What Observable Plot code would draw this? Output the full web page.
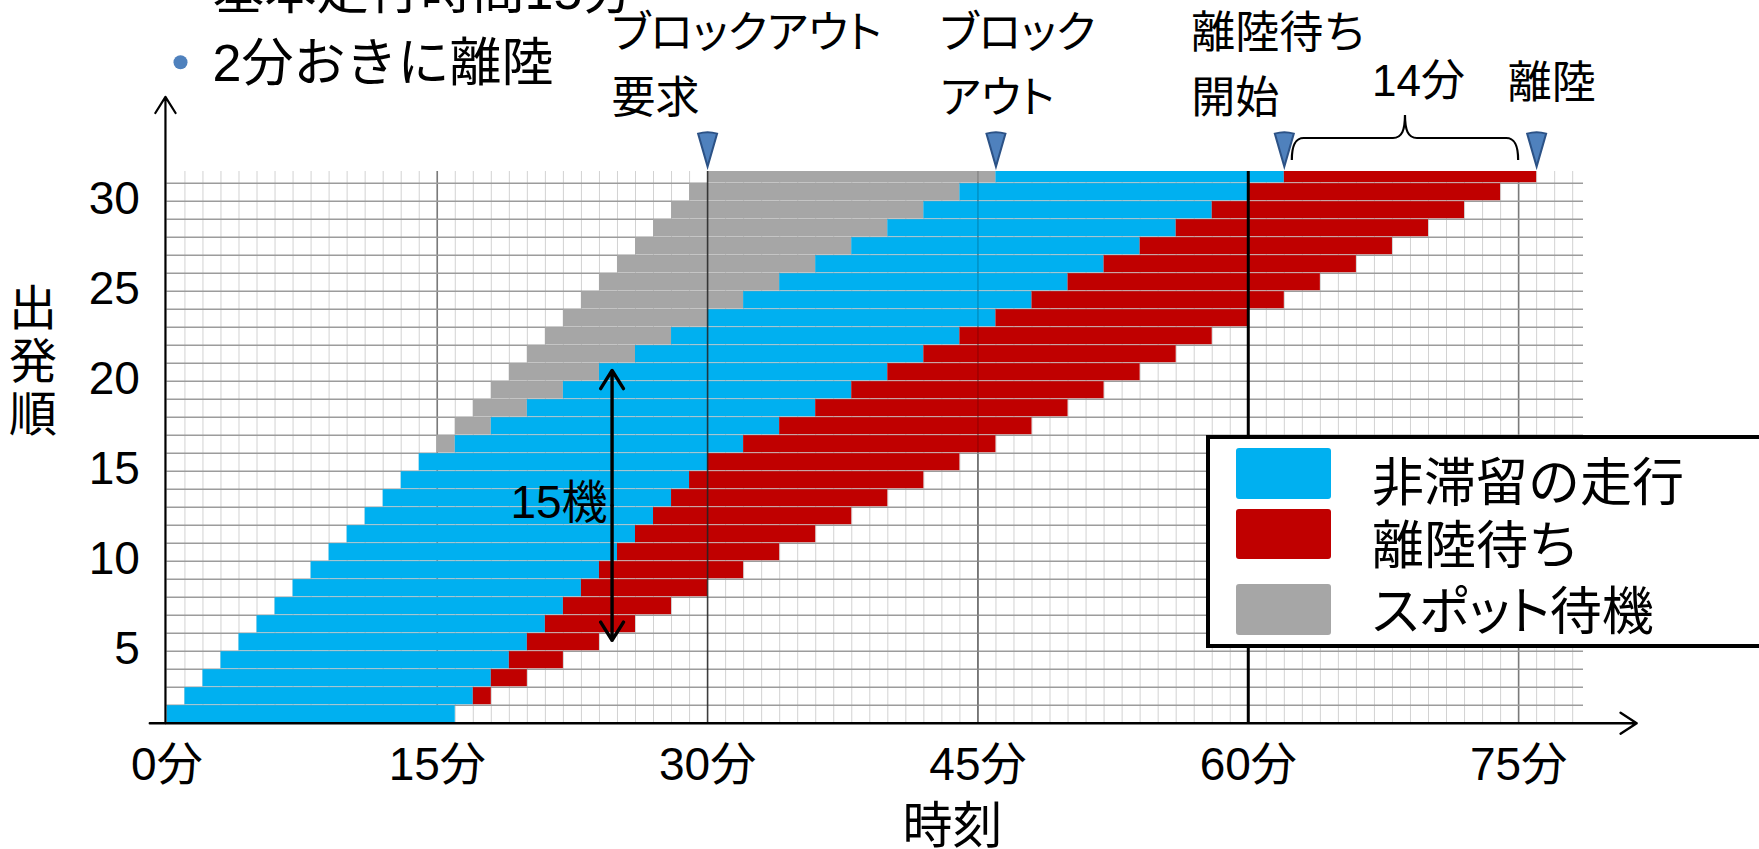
<!DOCTYPE html>
<html>
<head>
<meta charset="utf-8">
<script src="https://cdn.jsdelivr.net/npm/d3@7"></script>
<script src="https://cdn.jsdelivr.net/npm/@observablehq/plot@0.6"></script>
<style>
  html, body { margin: 0; padding: 0; background: #fff; }
  #stage { position: relative; width: 1759px; height: 849px; overflow: hidden; background: #fff; }
  #stage > svg { position: absolute; left: 0; top: 0; }
  #legend { position: absolute; left: 1206px; top: 435px; width: 700px; height: 213px;
            box-sizing: border-box; border: 4px solid #000; background: #fff; }
  .swatch { position: absolute; left: 1236px; width: 95px; border-radius: 3px; }
  .entry { position: absolute; left: 1372px; height: 52px; line-height: 52px; font-size: 52px;
           font-family: "Noto Sans CJK JP", sans-serif; white-space: nowrap; color: #000; }
  .palt { font-feature-settings: "palt" 1; }
</style>
</head>
<body>
<div id="stage"></div>
<script>
// Departure order of each aircraft
const aircraft = [1,2,3,4,5,6,7,8,9,10,11,12,13,14,15,16,17,18,19,20,21,22,23,24,25,26,27,28,29,30,31];
// Block-out request (start of spot wait), minutes
const requestTime = [0,1,2,3,4,5,6,7,8,9,10,11,12,13,14,15,16,17,18,19,20,21,22,23,24,25,26,27,28,29,30];
// Block-out (start of unimpeded taxi), minutes
const blockOutTime = [0,1,2,3,4,5,6,7,8,9,10,11,12,13,14,16,18,20,22,24,26,28,30,32,34,36,38,40,42,44,46];
// Arrival at the runway queue (start of takeoff wait), minutes
const queueStartTime = [16,17,18,19,20,21,22,23,24,25,26,27,28,29,30,32,34,36,38,40,42,44,46,48,50,52,54,56,58,60,62];
// Takeoff, minutes
const takeoffTime = [16,18,20,22,24,26,28,30,32,34,36,38,40,42,44,46,48,50,52,54,56,58,60,62,64,66,68,70,72,74,76];

const phaseNames = ["非滞留の走行", "離陸待ち", "スポット待機"];
const phaseColors = ["#00b0f0", "#c00000", "#a6a6a6"];
const xTicks = [0, 15, 30, 45, 60, 75];
const yTicks = [5, 10, 15, 20, 25, 30];
const headerLines = ["基本走行時間15分", "2分おきに離陸"];
const queuedCount = 15;          // aircraft bracketed by the vertical arrow
const queuedFrom = 5.1;          // lower end of that arrow, in departure order
const queuedAt = 24.7;           // time at which the arrow is drawn

const font = "'Liberation Sans', 'Noto Sans CJK JP', sans-serif";
const jpFont = "'Noto Sans CJK JP', 'Liberation Sans', sans-serif";

// One bar segment per aircraft and phase
const segments = aircraft.flatMap((n, i) => [
  {n, phase: phaseNames[2], start: requestTime[i], end: blockOutTime[i]},
  {n, phase: phaseNames[0], start: blockOutTime[i], end: queueStartTime[i]},
  {n, phase: phaseNames[1], start: queueStartTime[i], end: takeoffTime[i]}
]).filter(d => d.end > d.start);

// Milestones of the last aircraft, marked above the chart
const last = aircraft.length - 1;
const milestones = [
  {t: requestTime[last], text: "ブロックアウト\n要求", dx: -96},
  {t: blockOutTime[last], text: "ブロック\nアウト", dx: -56},
  {t: queueStartTime[last], text: "離陸待ち\n開始", dx: -93}
];
const takeoffMark = {t: takeoffTime[last], text: "離陸", dx: -29};
const waitMinutes = takeoffTime[last] - queueStartTime[last];

const xMax = 78.6, yMin = 0.5, yMax = 31.15;
const rowEdges = d3.range(1.5, aircraft.length, 1);
const minuteLines = d3.range(1, Math.floor(xMax) + 1);

// Narrow downward-pointing marker, tip at the anchor point
const pin = {
  draw(ctx) {
    ctx.moveTo(-9.5, -33);
    ctx.quadraticCurveTo(0, -36, 9.5, -33);
    ctx.lineTo(0, 0);
    ctx.closePath();
  }
};

// Curly brace spanning the takeoff wait of the last aircraft
function brace(index, scales, values, dims) {
  const x0 = scales.x(queueStartTime[last]) + 8;
  const x1 = scales.x(takeoffTime[last]) - 18;
  const xm = (x0 + x1) / 2;
  const top = dims.marginTop;
  const yEnd = top - 11, yLine = top - 33, yPeak = top - 56;
  const d = `M${x0},${yEnd} C${x0},${yLine + 10} ${x0 + 2},${yLine} ${x0 + 12},${yLine}` +
            ` L${xm - 12},${yLine} C${xm - 3},${yLine} ${xm},${yLine - 8} ${xm},${yPeak}` +
            ` C${xm},${yLine - 8} ${xm + 3},${yLine} ${xm + 12},${yLine}` +
            ` L${x1 - 12},${yLine} C${x1 - 2},${yLine} ${x1},${yLine + 10} ${x1},${yEnd}`;
  return d3.create("svg:path")
    .attr("d", d).attr("fill", "none").attr("stroke", "#000").attr("stroke-width", 2.2)
    .node();
}

const chart = Plot.plot({
  width: 1759,
  height: 849,
  marginLeft: 166.4,
  marginRight: 176,
  marginTop: 171,
  marginBottom: 126.3,
  style: {fontFamily: font, background: "#fff", color: "#000", overflow: "visible"},
  x: {domain: [0, xMax], label: null},
  y: {domain: [yMin, yMax], label: null},
  color: {domain: phaseNames, range: phaseColors},
  marks: [
    // background grid
    Plot.gridX(minuteLines, {stroke: "#d2d2d2", strokeOpacity: 1, strokeWidth: 1}),
    Plot.gridX([15, 45, 75], {stroke: "#7a7a7a", strokeOpacity: 1, strokeWidth: 1.6}),
    Plot.gridY(rowEdges, {stroke: "#9c9c9c", strokeOpacity: 1, strokeWidth: 1.6}),

    // phase bars, one row per aircraft
    Plot.rect(segments, {
      x1: "start", x2: "end",
      y1: d => d.n - 0.5, y2: d => d.n + 0.5,
      fill: "phase", insetTop: 0.5, insetBottom: 0.5, clip: true
    }),

    // reference times drawn over the bars
    Plot.ruleX([30], {stroke: "#222", strokeWidth: 1.6, strokeOpacity: 0.85}),
    Plot.ruleX([45], {stroke: "#000", strokeWidth: 1.5, strokeOpacity: 0.18}),
    Plot.ruleX([60], {stroke: "#000", strokeWidth: 3}),

    // axis lines with arrowheads
    Plot.arrow([0], {x1: -0.95, x2: 81.55, y1: yMin, y2: yMin, stroke: "#000",
                     strokeWidth: 2.4, headLength: 12, headAngle: 66}),
    Plot.arrow([0], {x1: -0.08, x2: -0.08, y1: yMin, y2: 35.3, stroke: "#000",
                     strokeWidth: 2.2, headLength: 13, headAngle: 64}),

    // tick labels
    Plot.axisX({ticks: xTicks, tickFormat: d => `${d}分`, tickSize: 0, tickPadding: 24.6,
                fontSize: 46, label: null}),
    Plot.axisY({ticks: yTicks, tickSize: 0, tickPadding: 27, fontSize: 46, dy: 7.4, label: null}),

    // axis titles
    Plot.text(["時刻"], {frameAnchor: "bottom-left", dx: 785.6, dy: 120, text: d => d,
                         textAnchor: "middle", lineAnchor: "bottom", fontSize: 50, fontFamily: jpFont}),
    Plot.text(["出\n発\n順"], {frameAnchor: "top-left", dx: -133.9, dy: 259, text: d => d,
                              textAnchor: "middle", lineAnchor: "bottom", lineHeight: 1.1,
                              fontSize: 48, fontFamily: jpFont}),

    // header notes
    Plot.dot([0], {frameAnchor: "top-left", dx: 13.6, dy: -109.3, r: 7, fill: "#4f81bd", stroke: null}),
    Plot.text([headerLines.join("\n")], {frameAnchor: "top-left", dx: 45.6, dy: -91, text: d => d,
                                          textAnchor: "start", lineAnchor: "bottom", lineHeight: 1.375,
                                          fontSize: 52, fontFamily: font}),

    // milestone markers and their labels
    Plot.dot([...milestones, takeoffMark], {x: "t", y: () => 31.42, symbol: pin, r: 5,
                                            fill: "#4f81bd", stroke: "#2c5286", strokeWidth: 2}),
    ...milestones.map(m => Plot.text([m], {x: "t", frameAnchor: "top", dx: m.dx, dy: -59,
                                            text: "text", textAnchor: "start", lineAnchor: "bottom",
                                            lineHeight: 1.477, fontSize: 44, fontFamily: jpFont})),
    Plot.text([takeoffMark], {x: "t", frameAnchor: "top", dx: takeoffMark.dx, dy: -74, text: "text",
                              textAnchor: "start", lineAnchor: "bottom", fontSize: 44, fontFamily: jpFont}),
    brace,
    Plot.text([waitMinutes], {x: () => (queueStartTime[last] + takeoffTime[last]) / 2, frameAnchor: "top",
                               dx: 8, dy: -76, text: d => `${d}分`, textAnchor: "middle",
                               lineAnchor: "bottom", fontSize: 44, fontFamily: font}),

    // span of aircraft waiting at once
    Plot.arrow([0], {x1: queuedAt, x2: queuedAt, y1: queuedFrom + queuedCount / 2, y2: queuedFrom + queuedCount,
                     stroke: "#000", strokeWidth: 3.4, headLength: 9.5, headAngle: 64}),
    Plot.arrow([0], {x1: queuedAt, x2: queuedAt, y1: queuedFrom + queuedCount / 2, y2: queuedFrom,
                     stroke: "#000", strokeWidth: 3.4, headLength: 9.5, headAngle: 64}),
    Plot.text([queuedCount], {x: () => queuedAt, y: () => queuedFrom + queuedCount / 2, dx: -4.5, dy: -2,
                              text: d => `${d}機`, textAnchor: "end", fontSize: 46, fontFamily: font})
  ]
});

// proportional kana widths for katakana labels
chart.querySelectorAll("text").forEach(t => {
  if (/[\u30A0-\u30FF]/.test(t.textContent)) t.style.fontFeatureSettings = '"palt" 1';
});

const stage = document.getElementById("stage");
stage.appendChild(chart);

// legend box
const legend = document.createElement("div");
legend.id = "legend";
stage.appendChild(legend);
const swatchTop = [448, 509, 584], swatchHeight = [51, 50, 51], entryMid = [479, 542, 608];
phaseNames.forEach((name, i) => {
  const sw = document.createElement("div");
  sw.className = "swatch";
  sw.style.top = swatchTop[i] + "px";
  sw.style.height = swatchHeight[i] + "px";
  sw.style.background = phaseColors[i];
  stage.appendChild(sw);
  const tx = document.createElement("div");
  tx.className = "entry" + (/[\u30A0-\u30FF]/.test(name) ? " palt" : "");
  tx.style.top = (entryMid[i] - 26) + "px";
  tx.textContent = name;
  stage.appendChild(tx);
});
</script>
</body>
</html>
